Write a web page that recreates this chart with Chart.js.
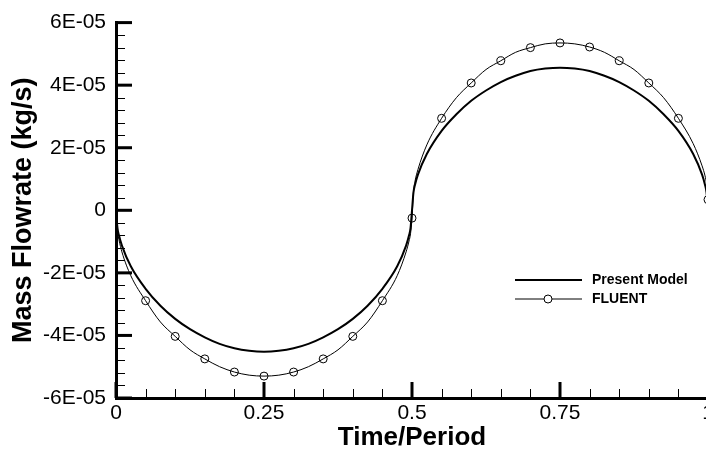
<!DOCTYPE html>
<html>
<head>
<meta charset="utf-8">
<script src="https://cdn.jsdelivr.net/npm/chart.js@4.4.0/dist/chart.umd.min.js"></script>
<style>
html, body { margin: 0; padding: 0; background: #fff; overflow: hidden; }
#wrap { width: 706px; height: 452px; overflow: hidden; }
canvas { display: block; background: #fff; }
</style>
</head>
<body>
<div id="wrap"><canvas id="chart" width="730" height="452"></canvas></div>
<script>
// time / period samples (shared by both curves)
const time = [0, 0.0025, 0.005, 0.01, 0.025, 0.05, 0.075, 0.1, 0.125, 0.15, 0.175, 0.2, 0.225,
  0.25, 0.275, 0.3, 0.325, 0.35, 0.375, 0.4, 0.425, 0.45, 0.475, 0.49, 0.495, 0.4975, 0.5,
  0.5025, 0.505, 0.51, 0.525, 0.55, 0.575, 0.6, 0.625, 0.65, 0.675, 0.7, 0.725, 0.75, 0.775,
  0.8, 0.825, 0.85, 0.875, 0.9, 0.925, 0.95, 0.975, 0.99, 0.995, 0.9975, 1];

// mass flowrate, kg/s
const presentModel = [0, -0.57e-5, -0.80e-5, -1.13e-5, -1.79e-5, -2.51e-5, -3.05e-5, -3.47e-5,
  -3.80e-5, -4.06e-5, -4.27e-5, -4.41e-5, -4.49e-5, -4.52e-5, -4.49e-5, -4.41e-5, -4.27e-5,
  -4.06e-5, -3.80e-5, -3.47e-5, -3.05e-5, -2.51e-5, -1.79e-5, -1.13e-5, -0.80e-5, -0.57e-5, 0,
  0.57e-5, 0.81e-5, 1.14e-5, 1.80e-5, 2.54e-5, 3.07e-5, 3.50e-5, 3.83e-5, 4.10e-5, 4.30e-5,
  4.45e-5, 4.53e-5, 4.56e-5, 4.53e-5, 4.45e-5, 4.30e-5, 4.10e-5, 3.83e-5, 3.50e-5, 3.07e-5,
  2.54e-5, 1.80e-5, 1.14e-5, 0.81e-5, 0.57e-5, 0];

const fluent = [0, -0.66e-5, -0.94e-5, -1.33e-5, -2.09e-5, -2.89e-5, -3.57e-5, -4.03e-5,
  -4.46e-5, -4.75e-5, -5.00e-5, -5.17e-5, -5.27e-5, -5.30e-5, -5.27e-5, -5.17e-5, -5.00e-5,
  -4.75e-5, -4.46e-5, -4.03e-5, -3.57e-5, -2.89e-5, -2.09e-5, -1.33e-5, -0.98e-5, -0.75e-5,
  -0.25e-5, 0.60e-5, 0.92e-5, 1.30e-5, 2.09e-5, 2.94e-5, 3.60e-5, 4.07e-5, 4.50e-5, 4.78e-5,
  5.05e-5, 5.20e-5, 5.32e-5, 5.35e-5, 5.32e-5, 5.22e-5, 5.05e-5, 4.78e-5, 4.50e-5, 4.07e-5,
  3.60e-5, 2.94e-5, 2.13e-5, 1.42e-5, 1.10e-5, 0.85e-5, 0.34e-5];

const xTickLabels = ['0', '0.25', '0.5', '0.75', '1'];
const yTickLabels = ['-6E-05', '-4E-05', '-2E-05', '0', '2E-05', '4E-05', '6E-05'];

const FONT = "'Liberation Sans', Arial, Helvetica, sans-serif";
const X_MAJOR = 0.25, Y_MAJOR = 2e-5;

function majorIndex(v, step) {
  const k = Math.round(v / step);
  return Math.abs(v - k * step) < step * 1e-6 ? k : null;
}

// ticks drawn inward, long ones on labelled values
const insideTicks = {
  id: 'insideTicks',
  afterDatasetsDraw(chart) {
    const { ctx, chartArea, scales: { x, y } } = chart;
    ctx.save();
    ctx.strokeStyle = '#000';
    x.ticks.forEach(t => {
      const major = majorIndex(t.value, X_MAJOR) !== null;
      let px = x.getPixelForValue(t.value);
      if (!major) px = Math.round(px) + 0.5;
      ctx.lineWidth = major ? 3 : 1;
      ctx.beginPath();
      ctx.moveTo(px, chartArea.bottom);
      ctx.lineTo(px, chartArea.bottom - (major ? 16 : 9));
      ctx.stroke();
    });
    y.ticks.forEach(t => {
      const major = majorIndex(t.value, Y_MAJOR) !== null;
      let py = y.getPixelForValue(t.value);
      if (!major) py = Math.round(py) + 0.5;
      ctx.lineWidth = major ? 3 : 1;
      ctx.beginPath();
      ctx.moveTo(chartArea.left, py);
      ctx.lineTo(chartArea.left + (major ? 16 : 9), py);
      ctx.stroke();
    });
    ctx.restore();
  }
};

// legend box inside the plot, lower right
const plotLegend = {
  id: 'plotLegend',
  afterDraw(chart) {
    const ctx = chart.ctx;
    ctx.save();
    ctx.font = 'bold 14px ' + FONT;
    ctx.textAlign = 'left';
    ctx.textBaseline = 'middle';
    chart.data.datasets.forEach((ds, i) => {
      const ly = 280 + i * 19;
      ctx.strokeStyle = '#000';
      ctx.lineWidth = ds.borderWidth;
      ctx.beginPath();
      ctx.moveTo(515, ly);
      ctx.lineTo(582, ly);
      ctx.stroke();
      if (ds.legendMarker) {
        ctx.lineWidth = 1;
        ctx.fillStyle = '#fff';
        ctx.beginPath();
        ctx.arc(548, ly, 4, 0, 2 * Math.PI);
        ctx.fill();
        ctx.stroke();
      }
      ctx.fillStyle = '#000';
      ctx.fillText(ds.label, 592, ly);
    });
    ctx.restore();
  }
};

new Chart(document.getElementById('chart'), {
  type: 'line',
  data: {
    labels: time,
    datasets: [
      {
        label: 'Present Model',
        data: time.map((t, i) => ({ x: t, y: presentModel[i] })),
        borderColor: '#000',
        borderWidth: 2,
        pointRadius: 0,
        cubicInterpolationMode: 'monotone',
        clip: false
      },
      {
        label: 'FLUENT',
        legendMarker: true,
        data: time.map((t, i) => ({ x: t, y: fluent[i] })),
        borderColor: '#000',
        borderWidth: 1,
        pointRadius: c => {
          const t = time[c.dataIndex];
          return t > 0 && majorIndex(t, 0.05) !== null ? 4 : 0;
        },
        pointBorderWidth: 1,
        pointBorderColor: '#000',
        pointBackgroundColor: 'rgba(0,0,0,0)',
        cubicInterpolationMode: 'monotone',
        clip: false
      }
    ]
  },
  options: {
    responsive: false,
    animation: false,
    layout: { padding: { top: 17, right: 22, bottom: 0, left: 0 } },
    plugins: { legend: { display: false }, tooltip: { enabled: false } },
    scales: {
      x: {
        type: 'linear',
        min: 0,
        max: 1,
        afterFit: s => { s.height = 54; },
        grid: { drawOnChartArea: false, drawTicks: false },
        border: { color: '#000', width: 3 },
        ticks: {
          stepSize: 0.05,
          autoSkip: false,
          maxRotation: 0,
          maxTicksLimit: 100,
          padding: 3,
          color: '#000',
          font: { family: FONT, size: 21 },
          callback: v => {
            const k = majorIndex(v, X_MAJOR);
            return k === null ? '' : xTickLabels[k];
          }
        },
        title: {
          display: true,
          text: 'Time/Period',
          color: '#000',
          font: { family: FONT, size: 26, weight: 'bold', lineHeight: 1 },
          padding: { top: 0, bottom: 1 }
        }
      },
      y: {
        min: -6e-5,
        max: 6e-5,
        afterFit: s => { s.width = 116; },
        grid: { drawOnChartArea: false, drawTicks: false },
        border: { color: '#000', width: 3 },
        ticks: {
          stepSize: 4e-6,
          autoSkip: false,
          maxTicksLimit: 100,
          padding: 10,
          color: '#000',
          font: { family: FONT, size: 21 },
          callback: v => {
            const k = majorIndex(v, Y_MAJOR);
            return k === null ? '' : yTickLabels[k + 3];
          }
        },
        title: {
          display: true,
          text: 'Mass Flowrate (kg/s)',
          color: '#000',
          font: { family: FONT, size: 27, weight: 'bold', lineHeight: 1 },
          padding: { top: 10, bottom: 0 }
        }
      }
    }
  },
  plugins: [insideTicks, plotLegend]
});
</script>
</body>
</html>
